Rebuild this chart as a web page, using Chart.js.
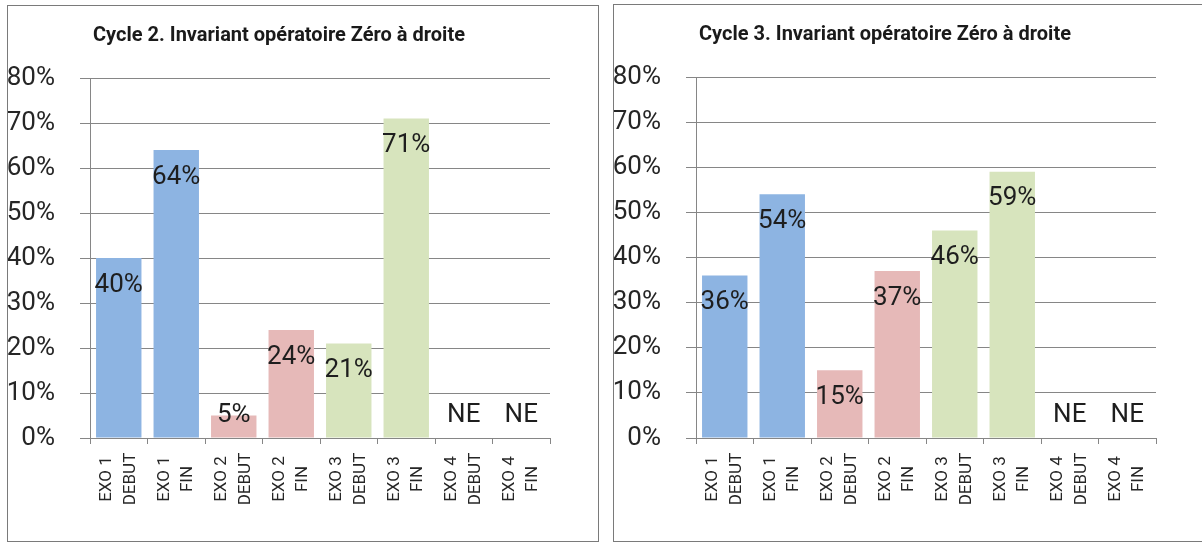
<!DOCTYPE html>
<html lang="fr">
<head>
<meta charset="utf-8">
<title>Invariant opératoire Zéro à droite</title>
<script src="https://cdn.jsdelivr.net/npm/chart.js@4.4.1/dist/chart.umd.min.js"></script>
<style>
  html, body { margin: 0; padding: 0; background: #fff; overflow: hidden; width: 1202px; height: 545px; }
  .cadre { position: absolute; border: 1px solid #7a7a7a; box-sizing: border-box; width: 592px; background: #fff; }
  #cadre2 { left: 7px; top: 5px; height: 537px; }
  #cadre3 { left: 613px; top: 4px; height: 538px; }
  canvas { display: block; }
</style>
</head>
<body>
<div class="cadre" id="cadre2"><canvas id="graficoCycle2" width="590" height="535"></canvas></div>
<div class="cadre" id="cadre3"><canvas id="graficoCycle3" width="590" height="536"></canvas></div>
<script>
// exercices (deux lignes par libellé)
var categories = [
  ['EXO 1', 'DEBUT'], ['EXO 1', 'FIN'],
  ['EXO 2', 'DEBUT'], ['EXO 2', 'FIN'],
  ['EXO 3', 'DEBUT'], ['EXO 3', 'FIN'],
  ['EXO 4', 'DEBUT'], ['EXO 4', 'FIN']
];
// taux de réussite en %, null = non évalué
var cycle2 = [40, 64, 5, 24, 21, 71, null, null];
var cycle3 = [36, 54, 15, 37, 46, 59, null, null];
var yTicks = ['0%', '10%', '20%', '30%', '40%', '50%', '60%', '70%', '80%'];
var titre2 = 'Cycle 2. Invariant opératoire Zéro à droite';
var titre3 = 'Cycle 3. Invariant opératoire Zéro à droite';
var nonEvalue = 'NE';
var couleurs = ['#8db4e2', '#8db4e2', '#e6b9b8', '#e6b9b8', '#d7e4bd', '#d7e4bd', '#d7e4bd', '#d7e4bd'];

Chart.defaults.font.family = 'Roboto';

// valeurs écrites dans les barres (ou NE)
var etiquettes = {
  id: 'etiquettes',
  afterDatasetsDraw: function (chart) {
    var ctx = chart.ctx;
    var valeurs = chart.data.datasets[0].data;
    var meta = chart.getDatasetMeta(0);
    var base = chart.scales.y.getPixelForValue(0);
    ctx.save();
    ctx.font = '26px Roboto';
    ctx.fillStyle = '#1e1e1e';
    ctx.textAlign = 'center';
    ctx.textBaseline = 'middle';
    for (var i = 0; i < valeurs.length; i++) {
      var x = chart.scales.x.getPixelForValue(i);
      if (valeurs[i] === null) {
        ctx.fillText(nonEvalue, x, base - 23);
        continue;
      }
      var haut = meta.data[i].y;
      var y = (base - haut) < 40 ? haut : haut + 27;
      ctx.fillText(valeurs[i] + '%', x, y);
    }
    ctx.restore();
  }
};

// libellés verticaux sous l'axe
var libelles = {
  id: 'libelles',
  afterDraw: function (chart) {
    var ctx = chart.ctx;
    var sx = chart.scales.x;
    var yc = sx.top + 41;
    ctx.save();
    ctx.font = '17px Roboto';
    ctx.fillStyle = '#262626';
    ctx.textAlign = 'center';
    ctx.textBaseline = 'middle';
    chart.data.labels.forEach(function (lignes, i) {
      var x = sx.getPixelForValue(i);
      ctx.save();
      ctx.translate(x, yc);
      ctx.rotate(-Math.PI / 2);
      lignes.forEach(function (t, k) {
        ctx.fillText(t, 0, (k - (lignes.length - 1) / 2) * 23.5);
      });
      ctx.restore();
    });
    ctx.restore();
  }
};

function construirGrafica(id, titre, valeurs) {
  return new Chart(document.getElementById(id), {
    type: 'bar',
    data: {
      labels: categories,
      datasets: [{
        data: valeurs,
        backgroundColor: couleurs,
        barPercentage: 0.79,
        categoryPercentage: 1
      }]
    },
    options: {
      responsive: false,
      animation: false,
      layout: { padding: { left: 0, right: 48, top: 0, bottom: 0 } },
      plugins: {
        legend: { display: false },
        tooltip: { enabled: false },
        title: {
          display: true,
          text: titre,
          color: '#1a1a1a',
          font: { size: 20, weight: 'bold' },
          padding: { top: 18, bottom: 30 }
        }
      },
      scales: {
        x: {
          grid: { drawOnChartArea: false, color: '#868686', tickLength: 6, offset: true },
          border: { color: '#868686' },
          ticks: { display: false },
          afterFit: function (s) { s.height = 103; }
        },
        y: {
          min: 0,
          max: 80,
          ticks: {
            stepSize: 10,
            padding: 25,
            color: '#262626',
            font: { size: 26 },
            callback: function (v, i) { return yTicks[i]; }
          },
          grid: { color: '#868686', tickLength: 10 },
          border: { color: '#868686' },
          afterFit: function (s) { s.width = 82; }
        }
      }
    },
    plugins: [etiquettes, libelles]
  });
}

construirGrafica('graficoCycle2', titre2, cycle2);
construirGrafica('graficoCycle3', titre3, cycle3);
</script>
</body>
</html>
